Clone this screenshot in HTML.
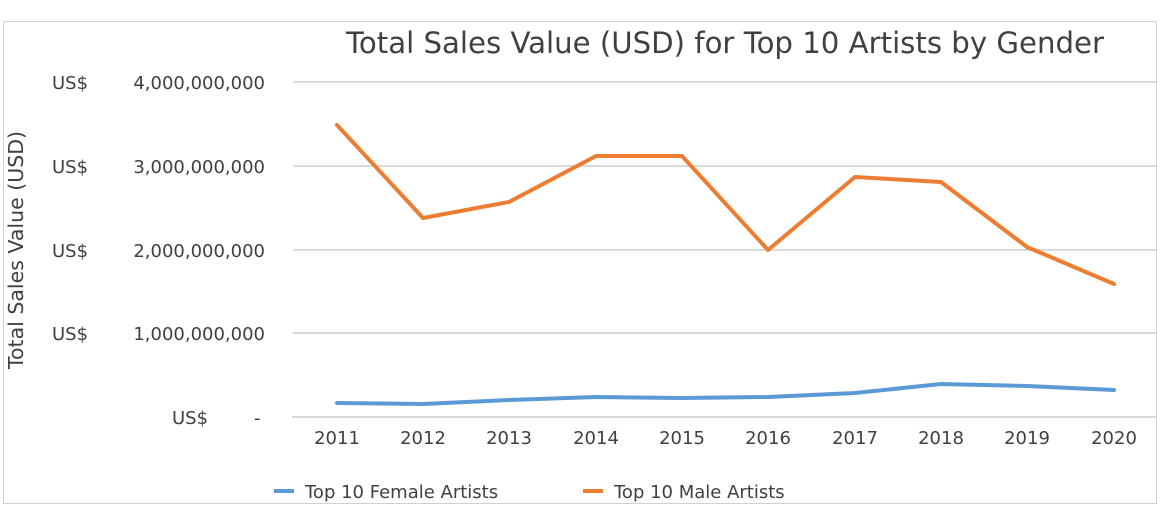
<!DOCTYPE html>
<html><head><meta charset="utf-8"><style>
body{margin:0;background:#fff;}
svg{display:block;font-family:"DejaVu Sans","Liberation Sans",sans-serif;}
</style></head><body>
<svg width="1160" height="520" viewBox="0 0 1160 520">
<rect x="3.5" y="21.5" width="1153" height="482" fill="#fff" stroke="#d0d0d0" stroke-width="1"/>
<text x="725" y="53" font-size="29.2" fill="#404040" text-anchor="middle">Total Sales Value (USD) for Top 10 Artists by Gender</text>
<g stroke="#d9d9d9" stroke-width="2">
<line x1="293" y1="82" x2="1157" y2="82"/>
<line x1="293" y1="166" x2="1157" y2="166"/>
<line x1="293" y1="250" x2="1157" y2="250"/>
<line x1="293" y1="333" x2="1157" y2="333"/>
<line x1="292" y1="417" x2="1157" y2="417"/>
</g>
<g font-size="18" fill="#404040">
<text x="52" y="89">US$</text><text x="265" y="89" text-anchor="end">4,000,000,000</text>
<text x="52" y="173">US$</text><text x="265" y="173" text-anchor="end">3,000,000,000</text>
<text x="52" y="257">US$</text><text x="265" y="257" text-anchor="end">2,000,000,000</text>
<text x="52" y="340">US$</text><text x="265" y="340" text-anchor="end">1,000,000,000</text>
<text x="172" y="424">US$</text><text x="254" y="424">-</text>
</g>
<text transform="translate(23,250) rotate(-90)" font-size="20.5" fill="#404040" text-anchor="middle">Total Sales Value (USD)</text>
<g font-size="18" fill="#404040" text-anchor="middle">
<text x="337" y="444">2011</text><text x="423" y="444">2012</text><text x="509" y="444">2013</text>
<text x="596" y="444">2014</text><text x="682" y="444">2015</text><text x="768" y="444">2016</text>
<text x="855" y="444">2017</text><text x="941" y="444">2018</text><text x="1027" y="444">2019</text>
<text x="1114" y="444">2020</text>
</g>
<polyline fill="none" stroke="#ed7d31" stroke-width="4" stroke-linejoin="round" stroke-linecap="round"
points="337,125 423,218 509,202 596,156 682,156 768,250 855,177 941,182 1027,247 1114,284"/>
<polyline fill="none" stroke="#5b9bd5" stroke-width="4" stroke-linejoin="round" stroke-linecap="round"
points="337,403 423,404 509,400 596,397 682,398 768,397 855,393 941,384 1027,386 1114,390"/>
<line x1="274" y1="491" x2="294" y2="491" stroke="#5b9bd5" stroke-width="4"/>
<text x="305" y="498" font-size="18" fill="#404040">Top 10 Female Artists</text>
<line x1="583" y1="491" x2="603" y2="491" stroke="#ed7d31" stroke-width="4"/>
<text x="614" y="498" font-size="18" fill="#404040">Top 10 Male Artists</text>
</svg>
</body></html>
